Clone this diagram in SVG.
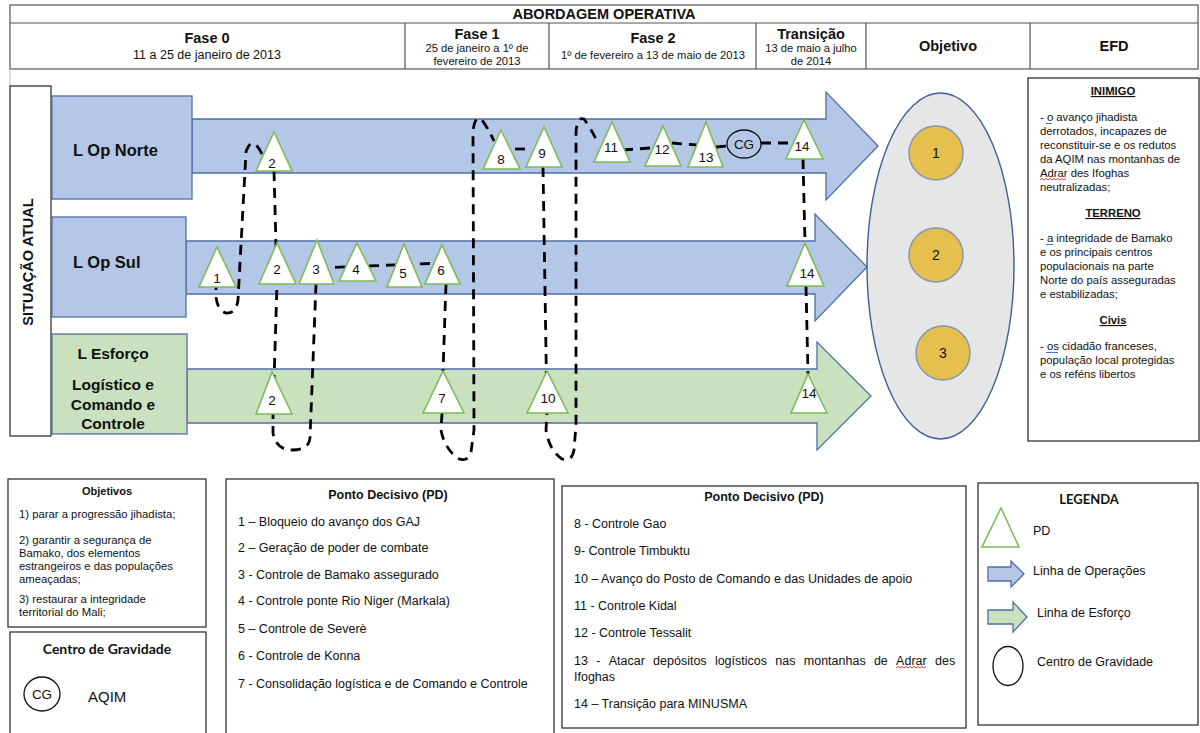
<svg xmlns="http://www.w3.org/2000/svg" width="1200" height="733" viewBox="0 0 1200 733">
<style>
text{font-family:"Liberation Sans",Arial,sans-serif;fill:#111}
.hb{font-weight:bold}
.box{fill:#fff;stroke:#333;stroke-width:1.3}
.lop{fill:#b4c7e7;stroke:#4f6fa8;stroke-width:1.3}
.les{fill:#c9e1be;stroke:#4f6fa8;stroke-width:1.3}
.pd{fill:#fff;stroke:#7ebb5a;stroke-width:1.6}
.pdt{font-size:13.5px;text-anchor:middle}
.dash{fill:none;stroke:#000;stroke-width:2.8;stroke-dasharray:10 7}
.obj{fill:#e6c04f;stroke:#8497b0;stroke-width:1.5}
.efd{font-size:11.3px}
.lst{font-size:12.5px}
.ob{font-size:11.3px}
.cal{font-family:Lato,"Liberation Sans",sans-serif;font-weight:bold}
</style>

<!-- Header table -->
<g id="header">
<rect x="10" y="5" width="1188" height="64" fill="#fff" stroke="#555" stroke-width="1.2"/>
<line x1="10" y1="23" x2="1198" y2="23" stroke="#555" stroke-width="1.2"/>
<g stroke="#555" stroke-width="1.2">
<line x1="405" y1="23" x2="405" y2="69"/>
<line x1="549" y1="23" x2="549" y2="69"/>
<line x1="756" y1="23" x2="756" y2="69"/>
<line x1="866" y1="23" x2="866" y2="69"/>
<line x1="1030" y1="23" x2="1030" y2="69"/>
</g>
<line x1="10" y1="69" x2="10" y2="86" stroke="#bbb" stroke-width="1"/>
<text x="604" y="19" class="hb" font-size="14.5" text-anchor="middle">ABORDAGEM OPERATIVA</text>
<text x="207" y="43" class="hb" font-size="14.5" text-anchor="middle">Fase 0</text>
<text x="207" y="59" font-size="12.5" text-anchor="middle">11 a 25 de janeiro de 2013</text>
<text x="477" y="39" class="hb" font-size="14.5" text-anchor="middle">Fase 1</text>
<text x="477" y="52" font-size="11.2" text-anchor="middle">25 de janeiro a 1º de</text>
<text x="477" y="65" font-size="11.2" text-anchor="middle">fevereiro de 2013</text>
<text x="653" y="43" class="hb" font-size="14.5" text-anchor="middle">Fase 2</text>
<text x="653" y="59" font-size="11.2" text-anchor="middle">1º de fevereiro a 13 de maio de 2013</text>
<text x="811" y="39" class="hb" font-size="14.5" text-anchor="middle">Transição</text>
<text x="811" y="52" font-size="11.2" text-anchor="middle">13 de maio a julho</text>
<text x="811" y="65" font-size="11.2" text-anchor="middle">de 2014</text>
<text x="948" y="51" class="hb" font-size="14.5" text-anchor="middle">Objetivo</text>
<text x="1114" y="51" class="hb" font-size="14.5" text-anchor="middle">EFD</text>
</g>

<!-- Situação atual -->
<g id="situacao">
<rect x="10" y="86" width="41" height="350" class="box"/>
<text transform="translate(33,262) rotate(-90)" class="hb" font-size="14.5" text-anchor="middle">SITUAÇÃO ATUAL</text>
</g>

<!-- Lines of operation -->
<g id="lop-norte">
<polygon class="lop" points="192,119 826,119 826,92 878,146 826,200 826,173 192,173"/>
<rect class="lop" x="52" y="96" width="140" height="103"/>
<text x="73" y="156" class="hb" font-size="16.5">L Op Norte</text>
</g>
<g id="lop-sul">
<polygon class="lop" points="186,241 815,241 815,214 867,267 815,321 815,294 186,294"/>
<rect class="lop" x="52" y="217" width="134" height="100"/>
<text x="73" y="268" class="hb" font-size="16.5">L Op Sul</text>
</g>
<g id="lesforco">
<polygon class="les" points="187,369 817,369 817,342 871,396 817,450 817,423 187,423"/>
<rect class="les" x="52" y="334" width="135" height="100"/>
<text x="113" y="359" class="hb" font-size="15.5" text-anchor="middle">L Esforço</text>
<text x="113" y="390" class="hb" font-size="15.5" text-anchor="middle">Logístico e</text>
<text x="113" y="410" class="hb" font-size="15.5" text-anchor="middle">Comando e</text>
<text x="113" y="429" class="hb" font-size="15.5" text-anchor="middle">Controle</text>
</g>

<!-- Connectors -->
<g id="connectors">
<path class="dash" d="M262,154 Q252,134 246,152 L238,300 Q236,314 226,313 Q217,310 216,296 L216,287"/>
<path class="dash" d="M274,171 L277,284 L273,414 L273,433 Q276,450 292,450 Q309,450 310,438 L316,284"/>
<path class="dash" d="M318,268 L442,263"/>
<path class="dash" d="M446,284 L443,371 M442,413 L441,430 Q444,447 457,458 Q468,463 471,452 L474,430 L473,133 Q474,116 481,119 Q487,126 494,141"/>
<path class="dash" d="M515,149 L527,149"/>
<path class="dash" d="M543,167 L547,413 L546,430 Q549,450 562,459 Q572,462 574,450 L576,425 L576,133 Q577,116 584,119 Q590,127 597,141"/>
<path class="dash" d="M623,150 L650,148 M672,143 L697,145 M716,147 L728,146 M761,143 L793,143"/>
<path class="dash" d="M803,159 L805,243 M806,286 L808,374"/>
</g>

<!-- PD nodes: Norte -->
<g id="pd-n2"><polygon class="pd" points="274,132 292,171 256,171"/><text class="pdt" x="272" y="168">2</text></g>
<g id="pd-n8"><polygon class="pd" points="501,130 520,169 483,169"/><text class="pdt" x="501" y="164">8</text></g>
<g id="pd-n9"><polygon class="pd" points="544,127 562,167 526,167"/><text class="pdt" x="542" y="158">9</text></g>
<g id="pd-n11"><polygon class="pd" points="612,122 630,162 594,162"/><text class="pdt" x="611" y="152">11</text></g>
<g id="pd-n12"><polygon class="pd" points="663,126 681,166 645,166"/><text class="pdt" x="662" y="154">12</text></g>
<g id="pd-n13"><polygon class="pd" points="706,122 723,167 688,167"/><text class="pdt" x="706" y="162">13</text></g>
<g id="cg-n"><ellipse cx="744" cy="144" rx="17" ry="14" fill="none" stroke="#111" stroke-width="1.3"/><text class="pdt" x="744" y="149">CG</text></g>
<g id="pd-n14"><polygon class="pd" points="804,120 823,159 786,159"/><text class="pdt" x="802" y="151">14</text></g>

<!-- PD nodes: Sul -->
<g id="pd-s1"><polygon class="pd" points="217,247 236,287 199,287"/><text class="pdt" x="217" y="283">1</text></g>
<g id="pd-s2"><polygon class="pd" points="277,243 296,284 259,284"/><text class="pdt" x="277" y="274">2</text></g>
<g id="pd-s3"><polygon class="pd" points="317,240 334,284 299,284"/><text class="pdt" x="316" y="274">3</text></g>
<g id="pd-s4"><polygon class="pd" points="357,243 376,281 339,281"/><text class="pdt" x="356" y="274">4</text></g>
<g id="pd-s5"><polygon class="pd" points="404,244 422,287 387,287"/><text class="pdt" x="403" y="278">5</text></g>
<g id="pd-s6"><polygon class="pd" points="442,245 460,284 425,284"/><text class="pdt" x="441" y="275">6</text></g>
<g id="pd-s14"><polygon class="pd" points="805,243 824,286 787,286"/><text class="pdt" x="807" y="278">14</text></g>

<!-- PD nodes: Esforço -->
<g id="pd-e2"><polygon class="pd" points="272,372 292,414 256,414"/><text class="pdt" x="272" y="405">2</text></g>
<g id="pd-e7"><polygon class="pd" points="443,371 464,413 423,413"/><text class="pdt" x="442" y="403">7</text></g>
<g id="pd-e10"><polygon class="pd" points="547,371 568,413 527,413"/><text class="pdt" x="548" y="403">10</text></g>
<g id="pd-e14"><polygon class="pd" points="808,374 827,413 791,413"/><text class="pdt" x="809" y="398">14</text></g>

<!-- Objetivo -->
<g id="objetivo">
<ellipse cx="940.5" cy="266" rx="73.5" ry="173" fill="#e6e6e6" stroke="#3f5e9a" stroke-width="1.4"/>
<circle class="obj" cx="936" cy="153" r="27"/><text x="936" y="158" font-size="14" text-anchor="middle">1</text>
<circle class="obj" cx="936" cy="255" r="27"/><text x="936" y="260" font-size="14" text-anchor="middle">2</text>
<circle class="obj" cx="943" cy="353" r="27"/><text x="943" y="358" font-size="14" text-anchor="middle">3</text>
</g>

<!-- EFD -->
<g id="efd">
<rect x="1028" y="78" width="171" height="363" class="box"/>
<text x="1113" y="95" class="hb efd" text-anchor="middle" text-decoration="underline">INIMIGO</text>
<text class="efd" x="1040" y="121">- o avanço jihadista</text>
<text class="efd" x="1040" y="135">derrotados, incapazes de</text>
<text class="efd" x="1040" y="149">reconstituir-se e os redutos</text>
<text class="efd" x="1040" y="163">da AQIM nas montanhas de</text>
<text class="efd" x="1040" y="177">Adrar des Ifoghas</text>
<text class="efd" x="1040" y="191">neutralizadas;</text>
<text x="1113" y="217" class="hb efd" text-anchor="middle" text-decoration="underline">TERRENO</text>
<text class="efd" x="1040" y="242">- a integridade de Bamako</text>
<text class="efd" x="1040" y="256">e os principais centros</text>
<text class="efd" x="1040" y="270">populacionais na parte</text>
<text class="efd" x="1040" y="284">Norte do país asseguradas</text>
<text class="efd" x="1040" y="298">e estabilizadas;</text>
<text x="1113" y="324" class="hb efd" text-anchor="middle" text-decoration="underline">Civis</text>
<text class="efd" x="1040" y="350">- os cidadão franceses,</text>
<text class="efd" x="1040" y="364">população local protegidas</text>
<text class="efd" x="1040" y="378">e os reféns libertos</text>
<g fill="none" stroke-width="0.9">
<line x1="1046" y1="123.5" x2="1052" y2="123.5" stroke="#3b5fc0"/>
<line x1="1046" y1="244.5" x2="1053" y2="244.5" stroke="#3b5fc0"/>
<line x1="1046" y1="352.5" x2="1058" y2="352.5" stroke="#3b5fc0"/>
<polyline stroke="#e03030" points="1040,180 1042,178.5 1044,180 1046,178.5 1048,180 1050,178.5 1052,180 1054,178.5 1056,180 1058,178.5 1060,180 1062,178.5 1064,180 1066,178.5"/>
</g>
</g>

<!-- Objetivos box -->
<g id="objetivos">
<rect x="8" y="479" width="198" height="148" class="box"/>
<text x="107" y="495" class="hb" font-size="11" text-anchor="middle">Objetivos</text>
<text class="ob" x="19" y="518">1) parar a progressão jihadista;</text>
<text class="ob" x="19" y="544">2) garantir a segurança de</text>
<text class="ob" x="19" y="557">Bamako, dos elementos</text>
<text class="ob" x="19" y="570">estrangeiros e das populações</text>
<text class="ob" x="19" y="583">ameaçadas;</text>
<text class="ob" x="19" y="603">3) restaurar a integridade</text>
<text class="ob" x="19" y="615.5">territorial do Mali;</text>
</g>

<!-- Centro de Gravidade box -->
<g id="centro-gravidade">
<rect x="10" y="632" width="196" height="110" class="box"/>
<text x="107" y="654" class="cal" font-size="14" text-anchor="middle">Centro de Gravidade</text>
<ellipse cx="42" cy="694" rx="18" ry="17" fill="none" stroke="#111" stroke-width="1.3"/>
<text x="42" y="699" font-size="13.5" text-anchor="middle">CG</text>
<text x="88" y="702" font-size="15">AQIM</text>
</g>

<!-- PD list 1 -->
<g id="pd-list-1">
<rect x="226" y="479" width="328" height="263" class="box"/>
<text x="388" y="499" class="hb" font-size="12.5" text-anchor="middle">Ponto Decisivo (PD)</text>
<text class="lst" x="238" y="526">1 – Bloqueio do avanço dos GAJ</text>
<text class="lst" x="238" y="552">2 – Geração de poder de combate</text>
<text class="lst" x="238" y="579">3 - Controle de Bamako assegurado</text>
<text class="lst" x="238" y="605">4 - Controle ponte Rio Niger (Markala)</text>
<text class="lst" x="238" y="633">5 – Controle de Severè</text>
<text class="lst" x="238" y="660">6 - Controle de Konna</text>
<text class="lst" x="238" y="688">7 - Consolidação logística e de Comando e Controle</text>
</g>

<!-- PD list 2 -->
<g id="pd-list-2">
<rect x="562" y="486" width="404" height="242" class="box"/>
<text x="764" y="501" class="hb" font-size="12.5" text-anchor="middle">Ponto Decisivo (PD)</text>
<text class="lst" x="574" y="528">8 - Controle Gao</text>
<text class="lst" x="574" y="555">9- Controle Timbuktu</text>
<text class="lst" x="574" y="583">10 – Avanço do Posto de Comando e das Unidades de apoio</text>
<text class="lst" x="574" y="610">11 - Controle Kidal</text>
<text class="lst" x="574" y="637">12 - Controle Tessalit</text>
<text class="lst" y="665"><tspan x="574">13</tspan><tspan x="596.2">-</tspan><tspan x="608.7">Atacar</tspan><tspan x="653.1">depósitos</tspan><tspan x="714.9">logísticos</tspan><tspan x="775.3">nas</tspan><tspan x="803.8">montanhas</tspan><tspan x="873.9">de</tspan><tspan x="896.1">Adrar</tspan><tspan x="935">des</tspan></text>
<text class="lst" x="574" y="681">Ifoghas</text>
<text class="lst" x="574" y="708">14 – Transição para MINUSMA</text>
<polyline fill="none" stroke="#e03030" stroke-width="0.9" points="896,668 898,666.5 900,668 902,666.5 904,668 906,666.5 908,668 910,666.5 912,668 914,666.5 916,668 918,666.5 920,668 922,666.5 924,668 926,666.5"/>
</g>

<!-- Legenda -->
<g id="legenda">
<rect x="978" y="483" width="220" height="242" class="box"/>
<text x="1089" y="504" class="cal" font-size="13" text-anchor="middle">LEGENDA</text>
<polygon class="pd" points="1001,508 1019,547 982,547"/>
<text x="1033" y="535" font-size="12.5">PD</text>
<polygon class="lop" points="988,567 1011,567 1011,561 1024,574 1011,587 1011,581 988,581"/>
<text x="1033" y="575" font-size="12.5">Linha de Operações</text>
<polygon class="les" points="988,610 1013,610 1013,602 1027,617 1013,632 1013,624 988,624"/>
<text x="1037" y="617" font-size="12.5">Linha de Esforço</text>
<ellipse cx="1008" cy="666" rx="15" ry="19.5" fill="none" stroke="#111" stroke-width="1.3"/>
<text x="1037" y="666" font-size="12.5">Centro de Gravidade</text>
</g>
</svg>
